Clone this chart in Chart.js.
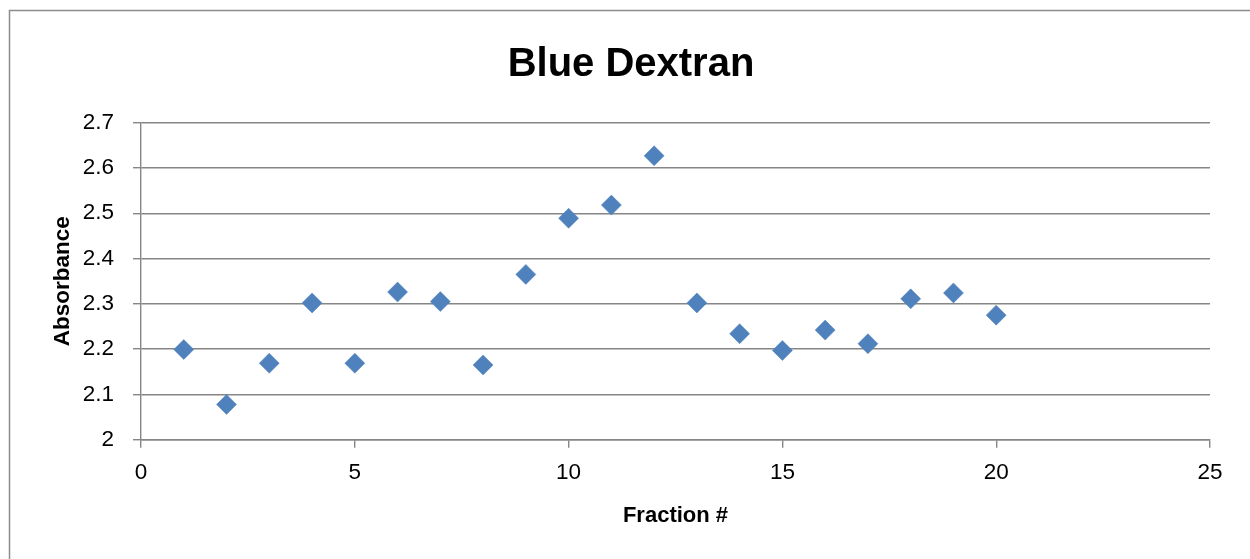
<!DOCTYPE html>
<html>
<head>
<meta charset="utf-8">
<script src="https://cdn.jsdelivr.net/npm/chart.js@4/dist/chart.umd.min.js"></script>
<style>
  html, body { margin: 0; padding: 0; background: #fff; overflow: hidden; }
  #wrap { width: 1250px; height: 559px; position: relative; }
</style>
</head>
<body>
<div id="wrap"><canvas id="chart"></canvas></div>
<script>
// Fraction number vs. absorbance
const fractions = [1, 2, 3, 4, 5, 6, 7, 8, 9, 10, 11, 12, 13, 14, 15, 16, 17, 18, 19, 20];
const absorbance = [2.199, 2.078, 2.169, 2.302, 2.169, 2.326, 2.305, 2.165, 2.365, 2.489,
                    2.518, 2.627, 2.302, 2.234, 2.197, 2.242, 2.212, 2.311, 2.324, 2.275];

const chartTitle = 'Blue Dextran';
const xTitle = 'Fraction #';
const yTitle = 'Absorbance';

const FONT = "'Liberation Sans', Arial, sans-serif";
const GRID = '#868686';

// fundo branco e moldura cinza do gráfico
const framePlugin = {
    id: 'frame',
    beforeDraw(chart) {
        const ctx = chart.ctx;
        ctx.save();
        ctx.fillStyle = '#fff';
        ctx.fillRect(0, 0, chart.width, chart.height);
        ctx.strokeStyle = '#8c8c8c';
        ctx.lineWidth = 1.5;
        ctx.strokeRect(9.5, 10.5, 1400, 700);
        ctx.restore();
    }
};

const points = fractions.map((f, i) => ({ x: f, y: absorbance[i] }));

new Chart(document.getElementById('chart'), {
    type: 'scatter',
    data: {
        datasets: [{
            label: 'Absorbance',
            data: points,
            pointStyle: 'rectRot',
            pointRadius: 10,
            backgroundColor: '#4F81BD',
            borderColor: '#4F81BD',
            borderWidth: 0.5
        }]
    },
    options: {
        responsive: true,
        maintainAspectRatio: false,
        animation: false,
        events: [],
        layout: { padding: { top: 0, right: 40, bottom: 0, left: 52 } },
        plugins: {
            legend: { display: false },
            tooltip: { enabled: false },
            title: {
                display: true,
                text: chartTitle,
                color: '#000',
                font: { family: FONT, size: 40, weight: 'bold', lineHeight: 1.2 },
                padding: { top: 41, bottom: 33.7 }
            }
        },
        scales: {
            x: {
                type: 'linear',
                min: 0,
                max: 25,
                afterFit: s => { s.height = 559 - 439.7; },
                ticks: { stepSize: 5, color: '#000', font: { family: FONT, size: 22.5 }, padding: 12 },
                grid: { drawOnChartArea: false, drawTicks: true, tickLength: 8, tickColor: GRID, lineWidth: 1.4 },
                border: { color: GRID, width: 1.4 },
                title: {
                    display: true,
                    text: xTitle,
                    color: '#000',
                    font: { family: FONT, size: 22, weight: 'bold' },
                    padding: { top: 0, bottom: 30 }
                }
            },
            y: {
                min: 2,
                max: 2.7,
                afterFit: s => { s.width = 141 - 52; },
                ticks: {
                    stepSize: 0.1,
                    color: '#000',
                    font: { family: FONT, size: 22.5 },
                    padding: 19,
                    callback: v => Math.round(v * 10) / 10
                },
                grid: { color: GRID, tickColor: GRID, tickLength: 8, lineWidth: 1.4 },
                border: { color: GRID, width: 1.4 },
                title: {
                    display: true,
                    text: yTitle,
                    color: '#000',
                    font: { family: FONT, size: 22.5, weight: 'bold', lineHeight: 1 },
                    padding: { top: 0, bottom: 0 }
                }
            }
        }
    },
    plugins: [framePlugin]
});
</script>
</body>
</html>
